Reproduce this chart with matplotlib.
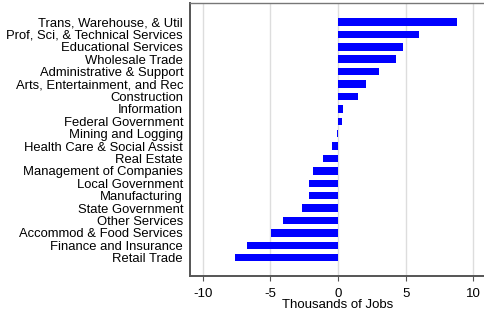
import matplotlib
matplotlib.use('Agg')
import matplotlib.pyplot as plt
import numpy as np

industries = [
    "Trans, Warehouse, & Util",
    "Prof, Sci, & Technical Services",
    "Educational Services",
    "Wholesale Trade",
    "Administrative & Support",
    "Arts, Entertainment, and Rec",
    "Construction",
    "Information",
    "Federal Government",
    "Mining and Logging",
    "Health Care & Social Assist",
    "Real Estate",
    "Management of Companies",
    "Local Government",
    "Manufacturing",
    "State Government",
    "Other Services",
    "Accommod & Food Services",
    "Finance and Insurance",
    "Retail Trade",
]
change = [8.8, 6.0, 4.8, 4.3, 3.0, 2.1, 1.5, 0.4, 0.3, -0.1,
          -0.47, -1.08, -1.87, -2.17, -2.17, -2.66, -4.06, -4.98, -6.76, -7.6]
xticks = [-10, -5, 0, 5, 10]

plt.rcParams['font.family'] = ['Liberation Sans', 'DejaVu Sans']

fig = plt.figure(figsize=(4.85, 3.11), dpi=100)
fig.patch.set_facecolor('white')
ax = fig.add_axes([190 / 485, 35 / 311, 296 / 485, 273 / 311])

pos = np.arange(len(industries))[::-1]
ax.barh(pos, change, height=0.6, color='#0000ff', zorder=3)

ax.set_yticks(pos)
ax.set_yticklabels(industries, fontsize=9.35)
ax.set_xticks(xticks)
ax.set_xticklabels([str(t) for t in xticks], fontsize=9.5)
ax.set_xlim(-10.94, 10.94)
ax.set_ylim(-1.47, 20.53)
ax.set_xlabel('Thousands of Jobs', fontsize=9.5, labelpad=-0.5)

ax.grid(axis='x', color='#dddddd', linewidth=1, zorder=0)
ax.tick_params(axis='y', length=0, pad=5)
ax.tick_params(axis='x', length=3.5, width=0.8, color='#555555', pad=5)

for s in ['left', 'bottom']:
    ax.spines[s].set_color('#555555')
    ax.spines[s].set_linewidth(1.4)
ax.spines['top'].set_color('#777777')
ax.spines['top'].set_linewidth(1.0)
ax.spines['right'].set_visible(False)

plt.savefig('out.png', dpi=100)
plt.close(fig)
